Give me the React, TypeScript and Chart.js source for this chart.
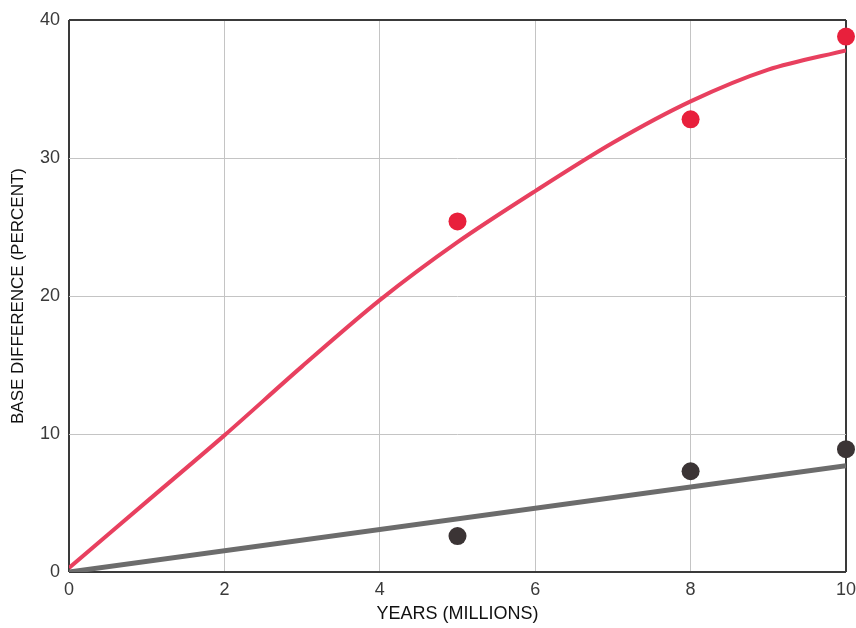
import React, { useEffect, useRef } from "react";
import { Chart, registerables } from "chart.js";

Chart.register(...registerables);

const xTicks = [0, 2, 4, 6, 8, 10];
const yTicks = [0, 10, 20, 30, 40];

const redCurveX = [0, 1, 2, 3, 4, 5, 6, 7, 8, 9, 10];
const redCurveY = [0.3, 5.1, 9.9, 14.9, 19.7, 23.9, 27.6, 31.1, 34.1, 36.4, 37.8];

const grayLineX = [0, 10];
const grayLineY = [0, 7.7];

const redPointsX = [5, 8, 10];
const redPointsY = [25.4, 32.8, 38.8];

const darkPointsX = [5, 8, 10];
const darkPointsY = [2.6, 7.3, 8.9];

const toXY = (xs: number[], ys: number[]) => xs.map((x, i) => ({ x, y: ys[i] }));

export default function App() {
  const ref = useRef<HTMLCanvasElement | null>(null);

  useEffect(() => {
    document.body.style.margin = "0";
    const ctx = ref.current!;
    const font = "'Liberation Sans', Arial, sans-serif";
    const chart = new Chart(ctx, {
      type: "scatter",
      data: {
        datasets: [
          {
            type: "line",
            data: toXY(redCurveX, redCurveY),
            borderColor: "#e8405f",
            borderWidth: 4,
            pointRadius: 0,
            tension: 0.3,
            fill: false,
            order: 3,
          } as any,
          {
            type: "line",
            data: toXY(grayLineX, grayLineY),
            borderColor: "#6c6c6c",
            borderWidth: 5,
            pointRadius: 0,
            fill: false,
            order: 3,
          } as any,
          {
            data: toXY(redPointsX, redPointsY),
            backgroundColor: "#e8203c",
            borderWidth: 0,
            pointRadius: 9,
            clip: false,
            order: 1,
          } as any,
          {
            data: toXY(darkPointsX, darkPointsY),
            backgroundColor: "#3b3435",
            borderWidth: 0,
            pointRadius: 9,
            clip: false,
            order: 1,
          } as any,
        ],
      },
      options: {
        animation: false,
        responsive: false,
        layout: { padding: { top: 20, right: 10, left: 0, bottom: 0 } },
        plugins: { legend: { display: false }, tooltip: { enabled: false } },
        scales: {
          x: {
            type: "linear",
            min: 0,
            max: 10,
            afterBuildTicks: (axis: any) => {
              axis.ticks = xTicks.map((v) => ({ value: v }));
            },
            afterFit: (axis: any) => {
              axis.height = 56;
              axis.paddingRight = 0;
              axis.paddingLeft = 0;
            },
            grid: {
              color: (c: any) =>
                c.tick && (c.tick.value === 0 || c.tick.value === 10) ? "#3a3a3a" : "#c4c4c4",
              lineWidth: (c: any) =>
                c.tick && (c.tick.value === 0 || c.tick.value === 10) ? 2 : 1,
              drawTicks: false,
            },
            border: { display: false },
            ticks: {
              color: "#3a3a3a",
              font: { family: font, size: 18 },
              padding: 7,
              maxRotation: 0,
            },
            title: {
              display: true,
              text: "YEARS (MILLIONS)",
              color: "#111",
              font: { family: font, size: 18 },
              padding: { top: 4, bottom: 3 },
            },
          },
          y: {
            type: "linear",
            min: 0,
            max: 40,
            afterBuildTicks: (axis: any) => {
              axis.ticks = yTicks.map((v) => ({ value: v }));
            },
            afterFit: (axis: any) => {
              axis.width = 69;
              axis.paddingTop = 0;
              axis.paddingBottom = 0;
            },
            grid: {
              color: (c: any) =>
                c.tick && (c.tick.value === 0 || c.tick.value === 40) ? "#3a3a3a" : "#c4c4c4",
              lineWidth: (c: any) =>
                c.tick && (c.tick.value === 0 || c.tick.value === 40) ? 2 : 1,
              drawTicks: false,
            },
            border: { display: false },
            ticks: {
              color: "#3a3a3a",
              font: { family: font, size: 18 },
              padding: 9,
            },
            title: {
              display: true,
              text: "BASE DIFFERENCE (PERCENT)",
              color: "#111",
              font: { family: font, size: 17 },
              padding: { top: 8, bottom: 4 },
            },
          },
        },
      },
    });
    return () => chart.destroy();
  }, []);

  return <canvas ref={ref} width={856} height={628} style={{ display: "block" }} />;
}
